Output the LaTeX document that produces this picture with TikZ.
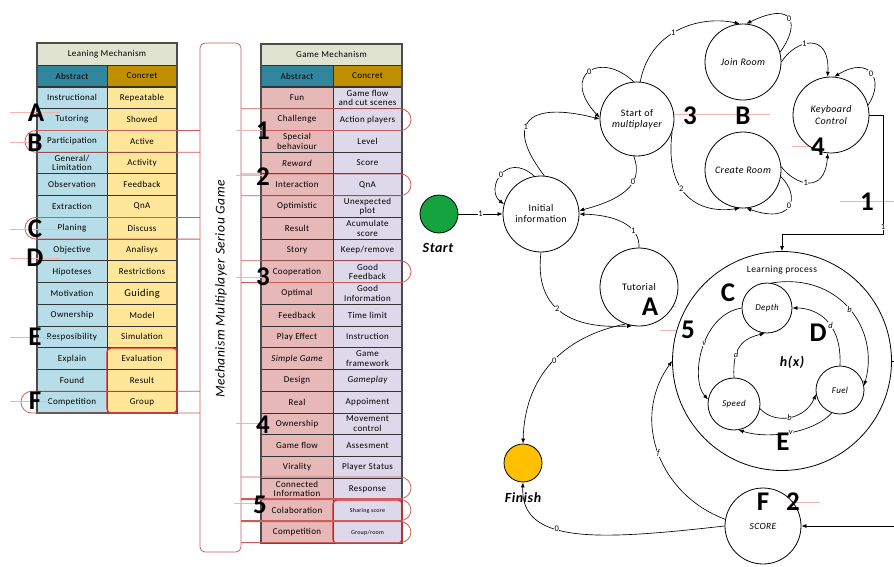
\documentclass[tikz,border=0pt]{standalone}
\usepackage{fontspec}
\setmainfont{Carlito}[LetterSpace=4]
\usetikzlibrary{arrows.meta}
\definecolor{gridc}{HTML}{333333}
\definecolor{titlef}{HTML}{DFE3CF}
\definecolor{tealh}{HTML}{31859C}
\definecolor{goldh}{HTML}{BF8F00}
\definecolor{lblue}{HTML}{B7DEE8}
\definecolor{lyel}{HTML}{FFE699}
\definecolor{lpink}{HTML}{E6B8B7}
\definecolor{llav}{HTML}{DDD9EA}
\definecolor{loopred}{HTML}{CD5C5C}
\definecolor{boxred}{HTML}{E8262B}
\definecolor{faintp}{HTML}{F2B3B3}
\definecolor{startg}{HTML}{14A33E}
\definecolor{finishy}{HTML}{FFC000}
\newcommand{\cellfont}{\fontsize{9}{9.5}\selectfont}
\newcommand{\lmrow}[3]{%
  \node[la] (la#1) at (72,{87+(#1-0.5)*21.73}) {#2};
  \node[lc] (lc#1) at (142,{87+(#1-0.5)*21.73}) {#3};}
\newcommand{\gmrow}[3]{%
  \node[ma] (ma#1) at (297,{87+(#1-0.5)*21.73}) {#2};
  \node[mc] (mc#1) at (367.5,{87+(#1-0.5)*21.73}) {#3};}
\begin{document}
\begin{tikzpicture}[x=1pt,y=-1pt,
  cell/.style={draw=gridc, line width=0.9pt, minimum height=21.73pt, inner sep=0pt, align=center, font=\cellfont, text=black},
  la/.style={cell, fill=lblue, minimum width=70pt},
  lc/.style={cell, fill=lyel, minimum width=70pt},
  ma/.style={cell, fill=lpink, minimum width=72pt},
  mc/.style={cell, fill=llav, minimum width=69pt},
  redloop/.style={draw=loopred, line width=0.8pt, rounded corners=10.8pt},
  redbox/.style={draw=boxred, line width=1.3pt, rounded corners=4pt},
  faintl/.style={draw=faintp, line width=0.6pt},
  bigl/.style={font=\fontsize{27}{27}\selectfont\bfseries, inner sep=0pt},
  st/.style={circle, draw=black, line width=0.8pt, fill=white, inner sep=0pt, align=center, font=\fontsize{10}{11}\selectfont},
  sub/.style={circle, draw=black, line width=0.8pt, fill=white, inner sep=0pt, font=\fontsize{9}{10}\selectfont\itshape},
  arr/.style={-{Latex[length=5pt,width=4pt]}, line width=0.65pt},
  el/.style={fill=white, inner sep=0.5pt, font=\fontsize{8.5}{8.5}\selectfont},
  eli/.style={fill=white, inner sep=0.5pt, font=\fontsize{8.5}{8.5}\selectfont\itshape}]
\useasboundingbox[fill=white] (0,0) rectangle (894,566);

% ---------------- Left table
\node[cell, fill=titlef, minimum width=140pt, minimum height=22pt] (ltitle) at (107,54) {Leaning Mechanism};
\node[la, fill=tealh] (lha) at (72,76) {Abstract};
\node[lc, fill=goldh] (lhc) at (142,76) {Concret};
\lmrow{1}{Instructional}{Repeatable}
\lmrow{2}{Tutoring}{Showed}
\lmrow{3}{Participation}{Active}
\lmrow{4}{General/\\Limitation}{Activity}
\lmrow{5}{Observation}{Feedback}
\lmrow{6}{Extraction}{QnA}
\lmrow{7}{Planing}{Discuss}
\lmrow{8}{Objective}{Analisys}
\lmrow{9}{Hipoteses}{Restrictions}
\lmrow{10}{Motivation}{{\fontsize{10.5}{11}\selectfont Guiding}}
\lmrow{11}{Ownership}{Model}
\lmrow{12}{Resposibility}{Simulation}
\lmrow{13}{Explain}{Evaluation}
\lmrow{14}{Found}{Result}
\lmrow{15}{Competition}{Group}
\draw[gray!60!black, line width=1.1pt] (37,43) rectangle (177,413);
\draw[redbox] (107,348) rectangle (177,413);

% ---------------- Middle table
\node[cell, fill=titlef, minimum width=141pt, minimum height=22pt] (gtitle) at (331.5,54) {Game Mechanism};
\node[ma, fill=tealh] (gha) at (297,76) {Abstract};
\node[mc, fill=goldh] (ghc) at (367.5,76) {Concret};
\gmrow{1}{Fun}{Game flow\\and cut scenes}
\gmrow{2}{Challenge}{Action players}
\gmrow{3}{Special\\behaviour}{Level}
\gmrow{4}{\itshape Reward}{Score}
\gmrow{5}{Interaction}{QnA}
\gmrow{6}{Optimistic}{Unexpected\\plot}
\gmrow{7}{Result}{Acumulate\\score}
\gmrow{8}{Story}{Keep/remove}
\gmrow{9}{Cooperation}{Good\\Feedback}
\gmrow{10}{Optimal}{Good\\Information}
\gmrow{11}{Feedback}{Time limit}
\gmrow{12}{Play Effect}{Instruction}
\gmrow{13}{\itshape Simple Game}{Game\\framework}
\gmrow{14}{Design}{\itshape Gameplay}
\gmrow{15}{Real}{Appoiment}
\gmrow{16}{Ownership}{Movement\\control}
\gmrow{17}{Game flow}{Assesment}
\gmrow{18}{Virality}{Player Status}
\gmrow{19}{Connected\\Information}{Response}
\gmrow{20}{Colaboration}{{\fontsize{6}{7}\selectfont Sharing score}}
\gmrow{21}{Competition}{{\fontsize{6}{7}\selectfont Group/room}}
\draw[gray!60!black, line width=1.1pt] (261,44) rectangle (402,543.3);
\draw[redbox] (333,500) rectangle (402,543.3);

% ---------------- Vertical box
\node[draw=loopred, line width=0.8pt, rounded corners=5pt, minimum width=41pt, minimum height=509pt, fill=white, inner sep=0pt] (vbox) at (220.5,297.5) {};
\node[rotate=90, font=\fontsize{13.5}{14}\selectfont\itshape, inner sep=0pt] (vtext) at (221,289) {Mechanism Multiplayer Seriou Game};

% ---------------- Loops
\draw[redloop] (200,130.5) -- (25,130.5) -- (25,152.2) -- (200,152.2);
\draw[redloop] (200,217.4) -- (25,217.4) -- (25,239.1) -- (200,239.1);
\draw[redloop] (200,391.2) -- (21,391.2) -- (21,413) -- (200,413);
\draw[redloop] (241,108.7) -- (411,108.7) -- (411,130.5) -- (241,130.5);
\draw[redloop] (241,173.9) -- (411,173.9) -- (411,195.7) -- (241,195.7);
\draw[redloop] (241,260.8) -- (411,260.8) -- (411,282.5) -- (241,282.5);
\draw[redloop] (241,477) -- (411,477) -- (411,498.6) -- (241,498.6);
\draw[redloop] (241,499.6) -- (411,499.6) -- (411,520.6) -- (241,520.6);
\draw[redloop] (241,521.6) -- (411,521.6) -- (411,542.6) -- (241,542.6);

% ---------------- faint annotation lines
\draw[faintl] (10,112) -- (60,112);
\draw[faintl] (10,142) -- (30,142);
\draw[faintl] (10,229) -- (60,229);
\draw[faintl] (10,258) -- (60,258);
\draw[faintl] (10,337) -- (60,337);
\draw[faintl] (10,401) -- (50,401);
\draw[faintl] (236,130) -- (264,130);
\draw[faintl] (236,175) -- (268,175);
\draw[faintl] (236,277) -- (264,277);
\draw[faintl] (236,423) -- (266,423);
\draw[faintl] (234,503) -- (266,503);
\draw[faintl] (663,114) -- (770,114);
\draw[faintl] (792,146) -- (846,146);
\draw[faintl] (840,201) -- (894,201);
\draw[faintl] (621,306) -- (676,306);
\draw[faintl] (660,330) -- (713,330);
\draw[faintl] (700,292) -- (750,292);
\draw[faintl] (790,330) -- (846,330);
\draw[faintl] (755,443) -- (809,443);
\draw[faintl] (735,502) -- (820,502);

% ---------------- big letters
\node[bigl] (bA) at (36,113) {A};
\node[bigl] (bB) at (35,143) {B};
\node[bigl] (bC) at (35,229) {C};
\node[bigl] (bD) at (35,258) {D};
\node[bigl] (bE) at (35,337) {E};
\node[bigl] (bF) at (35,401) {F};
\node[bigl] (n1) at (263,131) {1};
\node[bigl] (n2) at (263,177) {2};
\node[bigl] (n3) at (263,277) {3};
\node[bigl] (n4) at (263,425) {4};
\node[bigl] (n5) at (260,505) {5};

% ---------------- State diagram nodes
\node[st, minimum size=38pt, fill=startg] (start) at (439,214) {};
\node[font=\fontsize{14}{14}\selectfont\bfseries\itshape] (startl) at (438,248) {Start};
\node[st, minimum size=76pt] (init) at (541,214) {Initial\\information};
\node[st, minimum size=78pt] (tut) at (639,287) {Tutorial};
\node[st, minimum size=74pt] (smp) at (637,119) {Start of\\\itshape multiplayer};
\node[st, minimum size=76pt, font=\fontsize{10}{11}\selectfont\itshape] (join) at (743,62) {Join Room};
\node[st, minimum size=76pt, font=\fontsize{10}{11}\selectfont\itshape] (create) at (743,170) {Create Room};
\node[st, minimum size=76pt, font=\fontsize{10}{12}\selectfont\itshape] (kb) at (831,115) {Keyboard\\Control};
\node[st, minimum size=219pt] (lp) at (782,361) {};
\node[font=\fontsize{9.5}{10}\selectfont] (lpt) at (782,270) {Learning process};
\node[sub, minimum size=50pt] (depth) at (767,308) {Depth};
\node[sub, minimum size=48pt] (fuel) at (840,390) {Fuel};
\node[sub, minimum size=52pt] (speed) at (734,404) {Speed};
\node[font=\fontsize{14}{14}\selectfont\bfseries\itshape] (hx) at (792,362) {h(x)};
\node[st, minimum size=76pt, font=\fontsize{9.5}{10}\selectfont\itshape] (score) at (763,526) {SCORE};
\node[st, minimum size=38pt, fill=finishy] (finish) at (523,463) {};
\node[font=\fontsize{14}{14}\selectfont\bfseries\itshape] (finishl) at (523,498) {Finish};

% ---------------- edges
\draw[arr] (start) -- node[el]{1} (init);
\draw[arr] (init.100) .. controls (505,150) and (485,190) .. node[el,pos=0.5]{0} (init.165);
\draw[arr] (init.85) .. controls (505,125) and (525,100) .. node[el,pos=0.42]{1} (smp.180);
\draw[arr] (smp.95) .. controls (600,50) and (560,75) .. node[el,pos=0.5]{0} (smp.178);
\draw[arr] (smp.265) .. controls (645,185) and (620,200) .. node[el,pos=0.35]{0} (init.5);
\draw[arr] (tut.90) .. controls (640,225) and (615,215) .. node[el,pos=0.3]{1} (init.0);
\draw[arr] (init.270) .. controls (535,300) and (560,330) .. node[el,pos=0.5]{2} (tut.260);
\draw[arr] (tut.250) .. controls (570,335) and (525,370) .. node[el,pos=0.5]{0} (finish.90);
\draw[arr] (smp.85) .. controls (650,30) and (700,15) .. node[el,pos=0.45]{1} (join.95);
\draw[arr] (join.15) .. controls (800,25) and (795,0) .. node[el,pos=0.5]{0} (join.85);
\draw[arr] (join.0) .. controls (795,40) and (830,30) .. node[el,pos=0.4]{1} (kb.95);
\draw[arr] (kb.15) .. controls (885,80) and (870,55) .. node[el,pos=0.5]{0} (kb.85);
\draw[arr] (smp.-20) .. controls (665,185) and (690,215) .. node[el,pos=0.45]{2} (create.265);
\draw[arr] (create.350) .. controls (800,195) and (795,225) .. node[el,pos=0.5]{0} (create.275);
\draw[arr] (create.5) .. controls (795,185) and (825,195) .. node[el,pos=0.45]{1} (kb.265);
\coordinate (kbc1) at (883,115);
\coordinate (kbc2) at (883,234);
\draw[arr] (kb.east) -- (kbc1) -- node[el,pos=0.94]{1} (kbc2) -| (lp.north);
\coordinate (lpc1) at (898,361);
\coordinate (lpc2) at (898,526);
\draw[arr] (lp.east) -- (lpc1) -- (lpc2) -- (score.east);
\draw[arr] (score.180) .. controls (600,540) and (520,545) .. node[el,pos=0.6]{0} (finish.270);
\draw[arr] (score.170) .. controls (660,495) and (630,420) .. node[eli,pos=0.5]{f} (lp.180);
\draw[arr] (depth.80) .. controls (840,272) and (880,330) .. node[eli,pos=0.5]{b} (fuel.10);
\draw[arr] (fuel.90) .. controls (842,320) and (815,308) .. node[eli,pos=0.4]{d} (depth.0);
\draw[arr] (depth.180) .. controls (700,315) and (690,380) .. node[eli,pos=0.45]{v} (speed.170);
\draw[arr] (speed.90) .. controls (732,345) and (745,338) .. node[eli,pos=0.3]{d} (depth.265);
\draw[arr] (speed.350) .. controls (775,425) and (805,420) .. node[eli,pos=0.5]{b} (fuel.190);
\draw[arr] (fuel.250) .. controls (815,432) and (770,440) .. node[eli,pos=0.5]{v} (speed.280);

% ---------------- state diagram big letters
\node[bigl] (s3) at (690,116) {3};
\node[bigl] (sB) at (743,116) {B};
\node[bigl] (s4) at (818,147) {4};
\node[bigl] (s1) at (867,202) {1};
\node[bigl] (sA) at (650,307) {A};
\node[bigl] (sC) at (728,293) {C};
\node[bigl] (s5) at (688,330) {5};
\node[bigl] (sD) at (818,333) {D};
\node[bigl] (sE) at (783,442) {E};
\node[bigl] (sF) at (763,502) {F};
\node[bigl] (s2) at (793,502) {2};
\end{tikzpicture}
\end{document}
